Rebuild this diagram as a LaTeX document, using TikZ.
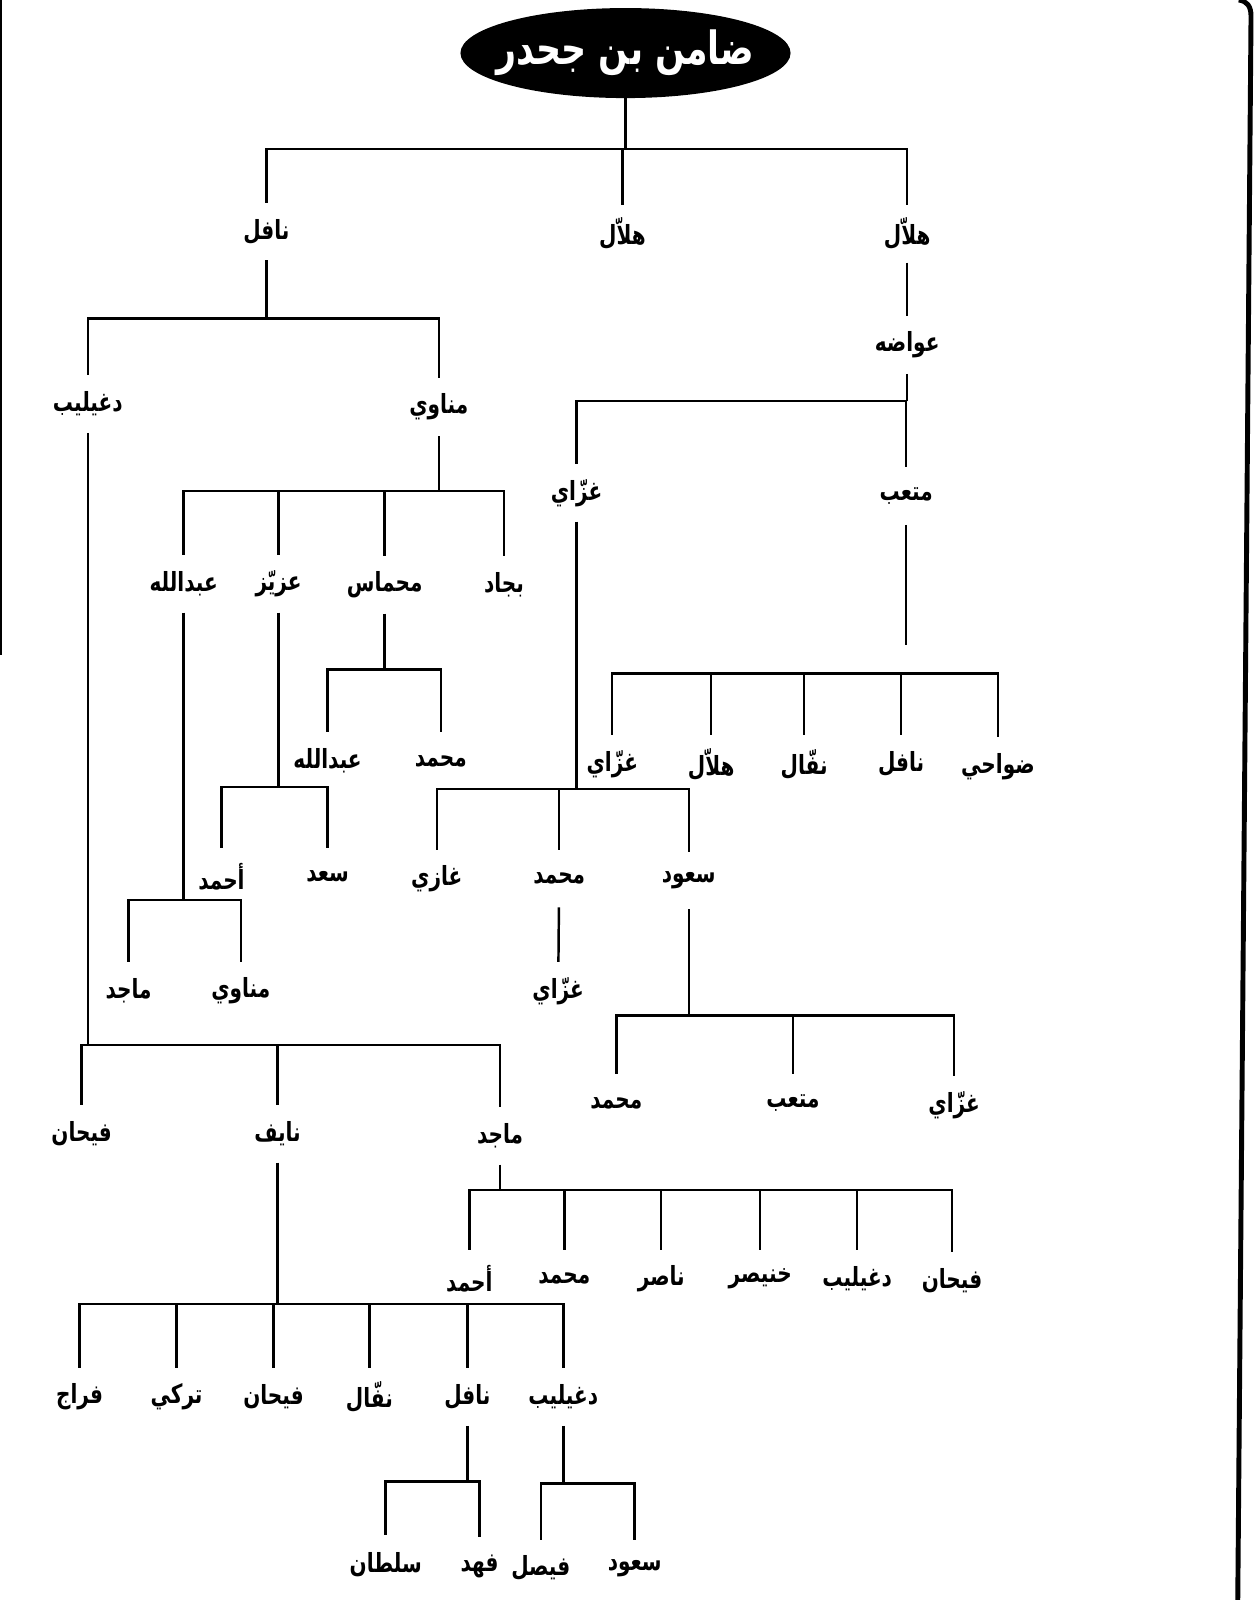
\documentclass[tikz,border=0pt]{standalone}
\usepackage{fontspec}
\usetikzlibrary{shapes.geometric}
\TeXXeTstate=1
\newfontfamily\arabicfont[Script=Arabic,FakeStretch=0.76]{DejaVu Sans}
\tikzset{
  kin/.style={font=\arabicfont\bfseries\fontsize{15}{17}\selectfont, minimum height=1.14cm, inner sep=0pt,
    execute at begin node=\beginR, execute at end node=\endR},
  head/.style={ellipse, fill=black, text=white, minimum width=6.6cm, minimum height=1.8cm, inner xsep=-0.6cm, inner ysep=0pt,
    font=\arabicfont\bfseries\fontsize{26}{29}\selectfont, execute at begin node=\beginR, execute at end node=\endR},
  link/.style={line width=1.4pt}
}
\newcommand\kinbar[3]{%
  \draw[link] (#1.south) -- (#1.south |- 0,#2);
  \foreach \c in {#3} \draw[link] (#1.south |- 0,#2) -| (\c.north);
}
\begin{document}
\begin{tikzpicture}[x=0.020406cm, y=-0.020406cm]
	\useasboundingbox (0,0) rectangle (1232,1568);
	\node[head] (root) at (613,52) {ضامن بن جحدر};
	\node[kin] (nafil) at (261,227) {نافل};
	\node[kin] (hallal) at (610,229) {هلاّل};
	\node[kin] (hallalb) at (889,229) {هلاّل};
	\node[kin] (awadha) at (889,338) {عواضه};
	\node[kin] (dughailib) at (86,396) {دغيليب};
	\node[kin] (manawi) at (430,399) {مناوي};
	\node[kin] (ghazzay) at (565,483) {غزّاي};
	\node[kin] (mitab) at (888,486) {متعب};
	\node[kin] (abdallah) at (180,572) {عبدالله};
	\node[kin] (azayyiz) at (273,572) {عزيّز};
	\node[kin] (mihmas) at (377,573) {محماس};
	\node[kin] (bijad) at (494,573) {بجاد};
	\node[kin] (abdallahb) at (321,746) {عبدالله};
	\node[kin] (muhammad) at (432,746) {محمد};
	\node[kin] (ghazzayb) at (600,749) {غزّاي};
	\node[kin] (hallalc) at (697,749) {هلاّل};
	\node[kin] (naffal) at (788,749) {نفّال};
	\node[kin] (nafilb) at (883,749) {نافل};
	\node[kin] (dawahi) at (978,751) {ضواحي};
	\node[kin] (ahmad) at (217,859) {أحمد};
	\node[kin] (saad) at (321,859) {سعد};
	\node[kin] (ghazi) at (428,861) {غازي};
	\node[kin] (muhammadb) at (548,861) {محمد};
	\node[kin] (suud) at (675,863) {سعود};
	\node[kin] (majid) at (126,971) {ماجد};
	\node[kin] (manawib) at (236,971) {مناوي};
	\node[kin] (ghazzayc) at (547,971) {غزّاي};
	\node[kin] (muhammadc) at (604,1081) {محمد};
	\node[kin] (mitabb) at (777,1081) {متعب};
	\node[kin] (ghazzayd) at (935,1083) {غزّاي};
	\node[kin] (fayhan) at (80,1111) {فيحان};
	\node[kin] (nayif) at (272,1111) {نايف};
	\node[kin] (majidb) at (490,1113) {ماجد};
	\node[kin] (ahmadb) at (460,1253) {أحمد};
	\node[kin] (muhammadd) at (553,1253) {محمد};
	\node[kin] (nasir) at (648,1253) {ناصر};
	\node[kin] (khunaisir) at (745,1253) {خنيصر};
	\node[kin] (dughailibb) at (840,1253) {دغيليب};
	\node[kin] (fayhanb) at (933,1255) {فيحان};
	\node[kin] (farraj) at (78,1369) {فراج};
	\node[kin] (turki) at (173,1369) {تركي};
	\node[kin] (fayhanc) at (268,1369) {فيحان};
	\node[kin] (naffalb) at (362,1369) {نفّال};
	\node[kin] (nafilc) at (458,1369) {نافل};
	\node[kin] (dughailibc) at (552,1369) {دغيليب};
	\node[kin] (sultan) at (378,1533) {سلطان};
	\node[kin] (fahd) at (470,1535) {فهد};
	\node[kin] (faisal) at (530,1537) {فيصل};
	\node[kin] (suudb) at (622,1537) {سعود};

	\kinbar{root}{146}{nafil,hallal,hallalb}
	\draw[link] (hallalb) -- (awadha);
	\kinbar{nafil}{312}{dughailib,manawi}
	\kinbar{awadha}{393}{ghazzay,mitab}
	\kinbar{manawi}{481}{abdallah,azayyiz,mihmas,bijad}
	\kinbar{mihmas}{656}{abdallahb,muhammad}
	\kinbar{azayyiz}{771}{ahmad,saad}
	\kinbar{abdallah}{882}{majid,manawib}
	\kinbar{dughailib}{1024}{fayhan,nayif,majidb}
	\draw[link] (mitab.south) -- (mitab.south |- 0,632);
	\foreach \c in {ghazzayb,hallalc,naffal,nafilb,dawahi} \draw[link] (mitab.south |- 0,660) -| (\c.north);
	\kinbar{ghazzay}{773}{ghazi,muhammadb,suud}
	\draw[link] (muhammadb) -- (ghazzayc);
	\kinbar{suud}{995}{muhammadc,mitabb,ghazzayd}
	\kinbar{majidb}{1166}{ahmadb,muhammadd,nasir,khunaisir,dughailibb,fayhanb}
	\kinbar{nayif}{1278}{farraj,turki,fayhanc,naffalb,nafilc,dughailibc}
	\kinbar{nafilc}{1452}{sultan,fahd}
	\kinbar{dughailibc}{1454}{faisal,suudb}

	\draw[line width=2.8pt] (1213,1568) -- (1226,16) .. controls (1226,6) and (1222,1) .. (1214,0);
	\draw[line width=0.8pt] (1,0) -- (1,642);
\end{tikzpicture}
\end{document}
